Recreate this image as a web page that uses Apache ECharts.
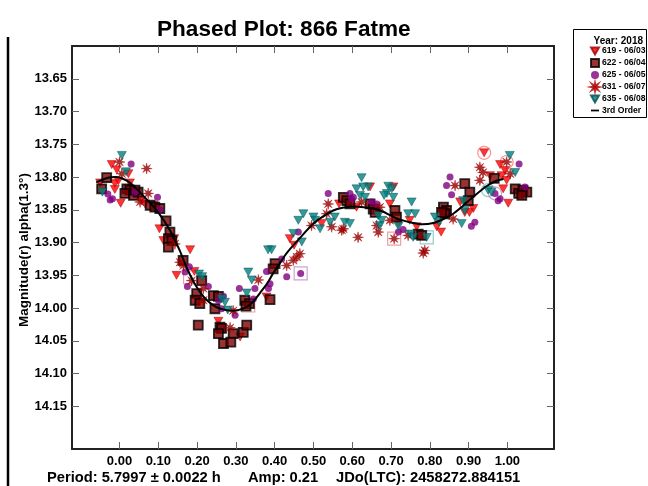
<!DOCTYPE html>
<html><head><meta charset="utf-8">
<script src="https://cdn.jsdelivr.net/npm/echarts@6/dist/echarts.min.js"></script>
<style>html,body{margin:0;padding:0;background:#fff}#c{width:648px;height:486px}</style>
</head><body><div id="c"></div>
<script>
const FONT = 'Liberation Sans, Arial, sans-serif';
const xTicks = [0, 0.1, 0.2, 0.3, 0.4, 0.5, 0.6, 0.7, 0.8, 0.9, 1.0];
const yTicks = [13.65, 13.70, 13.75, 13.80, 13.85, 13.90, 13.95, 14.00, 14.05, 14.10, 14.15];

const s619 = [[-0.050,13.809],[-0.020,13.781],[-0.007,13.789],[-0.012,13.810],[-0.003,13.806],[-0.012,13.819],[0.003,13.840],[0.023,13.795],[0.027,13.809],[0.057,13.836],[0.066,13.841],[0.088,13.843],[0.103,13.879],[0.113,13.897],[0.141,13.894],[0.182,13.911],[0.193,13.944],[0.147,13.950],[0.255,14.020],[0.311,14.044],[0.379,13.983],[0.450,13.904],[0.439,13.894],[0.521,13.871],[0.566,13.841],[0.611,13.846],[0.646,13.815],[0.706,13.815],[0.697,13.841],[0.719,13.871],[0.748,13.866],[0.766,13.876],[0.818,13.876],[0.829,13.884],[0.878,13.838],[0.890,13.854],[0.902,13.854],[0.912,13.848],[0.940,13.763],[0.981,13.781],[0.994,13.790],[0.955,13.798],[0.985,13.798],[0.998,13.805],[0.989,13.818],[1.002,13.840]];

const s622 = [[-0.033,13.801],[-0.046,13.818],[0.019,13.818],[0.027,13.820],[0.014,13.825],[0.036,13.828],[0.048,13.823],[0.040,13.820],[0.079,13.843],[0.091,13.846],[0.104,13.848],[0.120,13.867],[0.130,13.884],[0.126,13.894],[0.135,13.897],[0.126,13.907],[0.164,13.927],[0.212,13.958],[0.199,13.978],[0.195,13.988],[0.207,13.993],[0.242,13.981],[0.255,13.982],[0.246,14.001],[0.323,13.988],[0.335,13.993],[0.326,13.997],[0.203,14.026],[0.259,14.029],[0.263,14.031],[0.255,14.039],[0.293,14.039],[0.319,14.037],[0.328,14.026],[0.268,14.054],[0.287,14.052],[0.401,13.932],[0.396,13.940],[0.388,13.987],[0.577,13.831],[0.586,13.836],[0.594,13.841],[0.646,13.841],[0.654,13.849],[0.659,13.854],[0.710,13.851],[0.714,13.861],[0.770,13.887],[0.779,13.889],[0.835,13.846],[0.843,13.851],[0.839,13.856],[0.830,13.854],[0.890,13.810],[0.903,13.823],[0.899,13.836],[0.966,13.802],[1.020,13.818],[1.029,13.825],[1.040,13.820],[1.050,13.823],[1.037,13.828]];

const s625 = [[0.030,13.780],[-0.030,13.826],[-0.024,13.835],[-0.018,13.833],[0.040,13.823],[0.098,13.831],[0.104,13.850],[0.180,13.937],[0.169,13.945],[0.175,13.967],[0.229,13.967],[0.268,13.982],[0.255,13.988],[0.263,14.001],[0.298,14.011],[0.309,13.970],[0.345,13.986],[0.349,13.970],[0.379,13.944],[0.431,13.952],[0.388,13.963],[0.384,13.970],[0.467,13.947],[0.418,13.925],[0.461,13.884],[0.538,13.825],[0.594,13.825],[0.603,13.831],[0.598,13.833],[0.650,13.838],[0.663,13.841],[0.719,13.884],[0.731,13.880],[0.852,13.800],[0.843,13.813],[0.856,13.827],[0.916,13.869],[0.907,13.875],[1.030,13.780],[1.045,13.815],[0.968,13.825],[0.976,13.836],[0.981,13.833]];

const s631 = [[0.000,13.777],[0.006,13.795],[0.070,13.787],[0.053,13.838],[0.074,13.825],[0.143,13.902],[0.156,13.930],[0.165,13.935],[0.186,13.958],[0.216,13.970],[0.216,13.988],[0.293,14.004],[0.285,14.030],[0.358,13.957],[0.431,13.935],[0.457,13.922],[0.465,13.917],[0.448,13.927],[0.495,13.874],[0.538,13.841],[0.534,13.856],[0.547,13.876],[0.577,13.879],[0.573,13.881],[0.615,13.892],[0.624,13.838],[0.671,13.846],[0.697,13.866],[0.663,13.874],[0.667,13.884],[0.708,13.894],[0.744,13.889],[0.787,13.912],[0.783,13.916],[0.860,13.864],[0.865,13.813],[0.929,13.785],[0.937,13.793],[0.929,13.805],[0.998,13.777],[1.007,13.795]];

const s635 = [[0.006,13.767],[0.017,13.792],[-0.044,13.823],[0.205,13.948],[0.213,13.952],[0.263,13.986],[0.272,13.991],[0.279,14.003],[0.328,13.977],[0.332,13.945],[0.341,13.957],[0.392,13.911],[0.383,13.911],[0.470,13.899],[0.624,13.801],[0.611,13.818],[0.620,13.828],[0.633,13.831],[0.641,13.815],[0.628,13.815],[0.693,13.814],[0.702,13.818],[0.689,13.825],[0.682,13.828],[0.706,13.831],[0.667,13.859],[0.676,13.866],[0.671,13.874],[0.719,13.875],[0.753,13.838],[0.744,13.856],[0.762,13.856],[0.749,13.887],[0.757,13.892],[0.792,13.892],[0.813,13.861],[0.824,13.869],[0.886,13.836],[0.882,13.871],[0.890,13.851],[1.006,13.767],[1.020,13.793],[0.950,13.820],[0.959,13.823],[0.474,13.856],[0.461,13.866],[0.448,13.886],[0.517,13.879],[0.500,13.861],[0.504,13.866],[0.543,13.869],[0.555,13.861],[0.581,13.869],[0.594,13.871]];

const fit = [[-0.06,13.808],[-0.03,13.801],[-0.01,13.800],[0.02,13.806],[0.044,13.818],[0.07,13.834],[0.096,13.851],[0.13,13.881],[0.156,13.913],[0.173,13.938],[0.195,13.964],[0.216,13.982],[0.24,13.995],[0.26,14.001],[0.293,14.004],[0.328,13.998],[0.345,13.990],[0.362,13.977],[0.38,13.963],[0.396,13.947],[0.414,13.931],[0.431,13.916],[0.465,13.893],[0.50,13.871],[0.525,13.860],[0.551,13.851],[0.575,13.847],[0.603,13.845],[0.63,13.846],[0.654,13.848],[0.68,13.853],[0.697,13.858],[0.723,13.865],[0.757,13.870],[0.78,13.872],[0.809,13.870],[0.835,13.864],[0.86,13.856],[0.885,13.844],[0.912,13.830],[0.946,13.814],[0.97,13.806],[0.99,13.803]];

// flagged points (drawn with outline markers)
const flagRed = [[0.708,13.894],[0.182,13.953],[0.332,13.996]];
const flagTeal = [[0.792,13.892]];
const flagPurple = [[0.467,13.947]];
const ringRed = [[0.940,13.763],[0.998,13.777]];
const ringTeal = [[0.950,13.820]];
const ringPurple = [[0.968,13.825]];

const TRI = 'path://M0 0 L100 0 L50 87 Z';
const STAR = 'path://M100 50 L66.6 56.9 L85.4 85.4 L56.9 66.6 L50 100 L43.1 66.6 L14.6 85.4 L33.4 56.9 L0 50 L33.4 43.1 L14.6 14.6 L43.1 33.4 L50 0 L56.9 33.4 L85.4 14.6 L66.6 43.1 Z';
const BAR = 'path://M0 0 L100 0 L100 22 L0 22 Z';

const chart = echarts.init(document.getElementById('c'), null, {renderer: 'canvas'});

function mkX(pos, labels) {
  return {
    type: 'value', position: pos, min: -0.1224, max: 1.12,
    axisLine: {show: true, onZero: false, lineStyle: {color: '#222', width: 2}},
    axisTick: {show: true, inside: true, length: 7, customValues: xTicks, lineStyle: {color: '#666', width: 1}},
    axisLabel: {show: labels, customValues: xTicks, margin: 6, formatter: v => v.toFixed(2),
      fontFamily: FONT, fontWeight: 'bold', fontSize: 13, color: '#000'},
    splitLine: {show: false}
  };
}
function mkY(pos, labels) {
  return {
    type: 'value', position: pos, inverse: true, min: 13.60, max: 14.215,
    axisLine: {show: true, onZero: false, lineStyle: {color: '#222', width: 2}},
    axisTick: {show: true, inside: true, length: 7, customValues: yTicks, lineStyle: {color: '#666', width: 1}},
    axisLabel: {show: labels, customValues: yTicks, margin: 5, formatter: v => v.toFixed(2),
      fontFamily: FONT, fontWeight: 'bold', fontSize: 13, color: '#000'},
    splitLine: {show: false}
  };
}

function flag(data, symbol, color) {
  return {type: 'scatter', data: data, symbol: symbol, symbolSize: 13, z: 1,
    itemStyle: {color: 'rgba(0,0,0,0)', borderColor: color, borderWidth: 1.2}, silent: true};
}

chart.setOption({
  animation: false,
  backgroundColor: '#fff',
  title: {text: 'Phased Plot: 866 Fatme', left: 157, top: 18, padding: 0,
    textStyle: {fontFamily: FONT, fontWeight: 'bold', fontSize: 22.6, color: '#000'}},
  grid: {left: 72, top: 46, width: 482, height: 403, containLabel: false},
  xAxis: [mkX('bottom', true), mkX('top', false)],
  yAxis: [mkY('left', true), mkY('right', false)],
  legend: {
    orient: 'vertical', left: 590, top: 46.5, padding: 0, itemGap: 2.5,
    itemWidth: 8, itemHeight: 8, z: 10,
    textStyle: {fontFamily: FONT, fontWeight: 'bold', fontSize: 8.6, lineHeight: 9, color: '#000', padding: [0, 0, 0, -2]},
    data: ['619 - 06/03', '622 - 06/04', '625 - 06/05', '631 - 06/07', '635 - 06/08',
      {name: '3rd Order', icon: BAR, itemStyle: {color: '#000'}}]
  },
  graphic: [
    {type: 'rect', left: 573, top: 29, z: 0, shape: {width: 73, height: 88},
      style: {fill: '#fff', stroke: '#000', lineWidth: 1}},
    {type: 'text', right: 5, top: 36, z: 5, style: {text: 'Year: 2018', fontFamily: FONT, fontWeight: 'bold', fontSize: 10, fill: '#000'}},
    {type: 'line', shape: {x1: 8, y1: 37, x2: 8, y2: 486}, style: {stroke: '#000', lineWidth: 2.5}},
    {type: 'text', x: 24, y: 250, rotation: Math.PI / 2,
      style: {text: 'Magnitude(r) alpha(1.3°)', fontFamily: FONT, fontWeight: 'bold', fontSize: 13.5, fill: '#000', align: 'center', verticalAlign: 'middle'}},
    {type: 'text', x: 47, y: 478, style: {text: 'Period: 5.7997 ± 0.0022 h', fontFamily: FONT, fontWeight: 'bold', fontSize: 14.7, fill: '#000', verticalAlign: 'middle'}},
    {type: 'text', x: 248, y: 478, style: {text: 'Amp: 0.21', fontFamily: FONT, fontWeight: 'bold', fontSize: 14.7, fill: '#000', verticalAlign: 'middle'}},
    {type: 'text', x: 336, y: 478, style: {text: 'JDo(LTC): 2458272.884151', fontFamily: FONT, fontWeight: 'bold', fontSize: 14.7, fill: '#000', verticalAlign: 'middle'}}
  ],
  series: [
    flag(flagRed, 'rect', 'rgba(220,110,110,0.8)'),
    flag(flagTeal, 'rect', 'rgba(90,170,170,0.8)'),
    flag(flagPurple, 'rect', 'rgba(180,110,190,0.8)'),
    flag(ringRed, 'circle', 'rgba(255,90,90,0.85)'),
    flag(ringTeal, 'circle', 'rgba(90,170,170,0.8)'),
    flag(ringPurple, 'circle', 'rgba(180,110,190,0.8)'),
    {name: '619 - 06/03', type: 'scatter', data: s619, symbol: TRI, symbolSize: [9, 8], z: 2,
      itemStyle: {color: '#ff0000', borderColor: '#a00000', borderWidth: 0.6}},
    {name: '622 - 06/04', type: 'scatter', data: s622, symbol: 'rect', symbolSize: 9, z: 2,
      itemStyle: {color: '#800000', borderColor: '#000', borderWidth: 1.8}},
    {name: '625 - 06/05', type: 'scatter', data: s625, symbol: 'circle', symbolSize: 7, z: 2,
      itemStyle: {color: '#800080'}},
    {name: '631 - 06/07', type: 'scatter', data: s631, symbol: STAR, symbolSize: 11, z: 2,
      itemStyle: {color: '#8b0000', borderColor: '#b00000', borderWidth: 0.5}},
    {name: '635 - 06/08', type: 'scatter', data: s635, symbol: TRI, symbolSize: [9, 8], z: 2,
      itemStyle: {color: '#008080', borderColor: '#005050', borderWidth: 0.6}},
    {name: '3rd Order', type: 'line', data: fit, symbol: 'none', smooth: 0.3, z: 3,
      lineStyle: {color: '#000', width: 2}, itemStyle: {color: '#000'}}
  ]
});
</script>
</body></html>
